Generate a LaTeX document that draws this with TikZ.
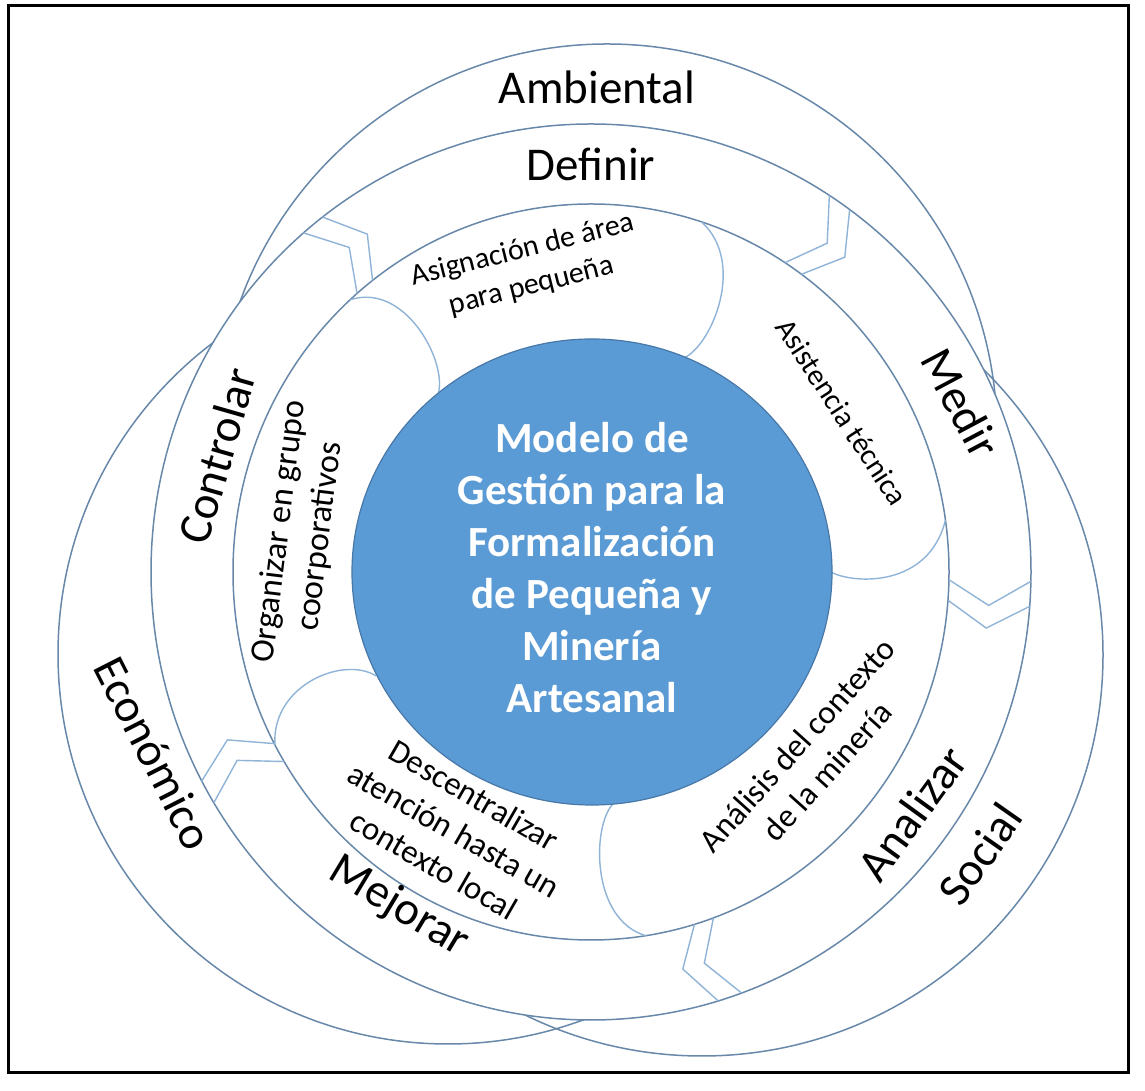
\documentclass[tikz,border=0pt]{standalone}
\usepackage{fontspec}
\setmainfont{Carlito}
\definecolor{ringline}{RGB}{104,136,170}
\definecolor{chevline}{RGB}{143,180,216}
\definecolor{bluefill}{RGB}{91,155,213}
\definecolor{blueedge}{RGB}{72,120,168}
\begin{document}
\begin{tikzpicture}[x=1pt,y=1pt,
  ring/.style={draw=ringline, line width=1.5pt},
  chev/.style={draw=chevline, line width=1.4pt, line join=miter},
  cloudarc/.style={draw=chevline, line width=1.4pt},
  biglabel/.style={font=\fontsize{47}{57}\selectfont, text=black, inner sep=0pt},
  smalllabel/.style={align=center, text=black, inner sep=0pt},
  centertext/.style={align=center, text=white, font=\bfseries\fontsize{43}{52}\selectfont, inner sep=0pt}
]
\useasboundingbox (0,0) rectangle (1145,1091);
\draw[line width=3pt] (8,18) rectangle (1128,1085);

% Venn circles
\draw[ring] (607,657) circle (390);
\draw[ring] (448,437) circle (390);
\draw[ring] (702,436) circle (401);

\coordinate (C) at (591,519);
\begin{scope}[shift={(C)}]
  \filldraw[ring, fill=white] (0,0) ellipse [x radius=440, y radius=448];
  \draw[ring] (0,0) ellipse [x radius=358, y radius=368];
  \foreach \b in {130.8,57.2,-1.2,-70,-149}{
    \draw[chev] (\b:440 and 448) -- (\b-3.5:399 and 408) -- (\b:358 and 368);
    \draw[chev] (\b-3.2:440 and 448) -- (\b-6.7:399 and 408) -- (\b-3.2:358 and 368);
  }
  \draw[cloudarc] (132.3:358 and 368) .. controls (123.6:338 and 348) and (123.6:262 and 256) .. (129.4:240 and 233);
  \draw[cloudarc] (72:358 and 368) .. controls (62.6:338 and 348) and (62.6:262 and 256) .. (67:240 and 233);
  \draw[cloudarc] (8.1:358 and 368) .. controls (-2.7:338 and 348) and (-2.7:262 and 256) .. (0:240 and 233);
  \draw[cloudarc] (-81.2:358 and 368) .. controls (-89.9:338 and 348) and (-89.9:262 and 256) .. (-84.8:240 and 233);
  \draw[cloudarc] (208:358 and 368) .. controls (199:338 and 348) and (199:262 and 256) .. (206.5:240 and 233);
  \filldraw[fill=bluefill, draw=blueedge, line width=1.2pt] (1,0) ellipse [x radius=240, y radius=233];
\end{scope}

% Venn labels
\node[biglabel] (ambiental) at (597,1004) {Ambiental};
\node[biglabel, rotate=-63] (economico) at (154,338) {Económico};
\node[biglabel, rotate=55] (social) at (980,237) {Social};

% Process ring labels
\node[biglabel] (definir) at (591,927) {Definir};
\node[biglabel, rotate=-62] (medir) at (961,688) {Medir};
\node[biglabel, rotate=54] (analizar) at (912,278) {Analizar};
\node[biglabel, rotate=-31] (mejorar) at (399,184) {Mejorar};
\node[biglabel, rotate=74] (controlar) at (217,635) {Controlar};

% Inner ring labels
\node[smalllabel, rotate=14, font=\fontsize{30}{37}\selectfont] (asignacion) at (527,823) {Asignación de área\\para pequeña};
\node[smalllabel, rotate=-57, font=\fontsize{30}{37}\selectfont] (asistencia) at (842,679) {Asistencia técnica};
\node[smalllabel, rotate=48, font=\fontsize{33}{40}\selectfont] (analisis) at (812,333) {Análisis del contexto\\de la minería};
\node[smalllabel, rotate=-30, font=\fontsize{33}{40}\selectfont] (descentralizar) at (454,261) {Descentralizar\\atención hasta un\\contexto local};
\node[smalllabel, rotate=83, font=\fontsize{34}{41}\selectfont] (organizar) at (300,557) {Organizar en grupo\\coorporativos};

% Center
\node[centertext] (modelo) at (592,523) {Modelo de\\Gestión para la\\Formalización\\de Pequeña y\\Minería\\Artesanal};
\end{tikzpicture}
\end{document}
